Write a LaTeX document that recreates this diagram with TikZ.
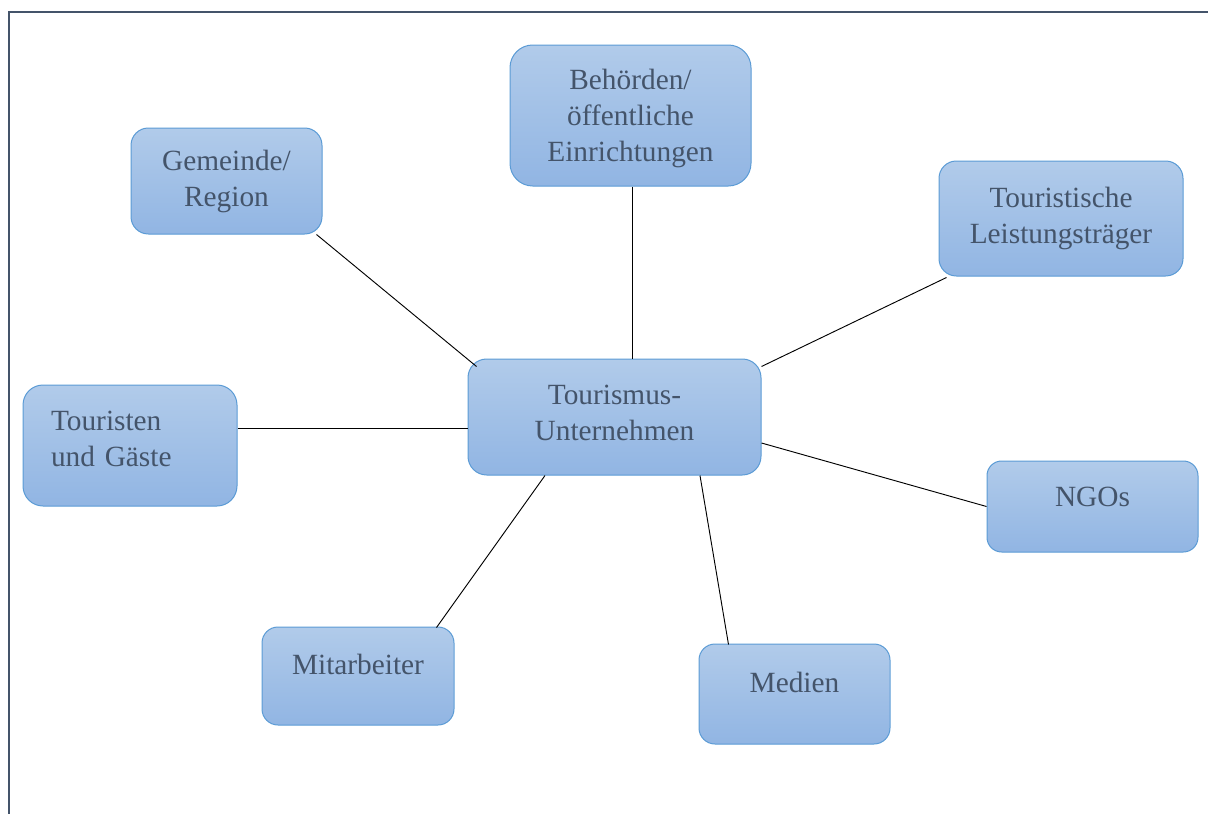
\documentclass[tikz,border=0pt]{standalone}
\usepackage{fontspec}
\setmainfont{Liberation Serif}
\usetikzlibrary{calc, positioning}
\definecolor{Rahmen}{RGB}{68,84,106}
\definecolor{Schrift}{RGB}{68,84,106}
\definecolor{BoxOben}{RGB}{177,203,234}
\definecolor{BoxUnten}{RGB}{145,181,227}
\definecolor{BoxRand}{RGB}{91,155,213}

\begin{document}
\begin{tikzpicture}[
  x=0.75pt, y=-0.75pt,
  font=\fontsize{22}{27}\selectfont,
  akteur/.style={draw=BoxRand, line width=0.75pt, rounded corners=13pt,
                 top color=BoxOben, bottom color=BoxUnten, text=Schrift,
                 align=center, inner sep=0pt},
  einzeilig/.style={text height=15pt, text depth=#1},
  verbindung/.style={line width=0.7pt, black},
  rahmen/.style={draw=Rahmen, line width=1.5pt}
]
\useasboundingbox (0,0) rectangle (1208,814);

%% ——— Rahmen ———
\draw[rahmen] (8.5,814) -- (8.5,12) -- (1208,12);

%% ——— Mitte: Unternehmen ———
\node[akteur, text depth=6pt, minimum width=219.75pt, minimum height=87pt, rounded corners=14pt]
  (tu) at (614.5,417) {Tourismus-\\Unternehmen};

%% ——— Oben: Anspruchsgruppen ———
\node[akteur, minimum width=143.25pt, minimum height=79.5pt] (gem) at (226.5,181) {Gemeinde/\\Region};
\node[akteur, text depth=0pt, minimum width=180.75pt, minimum height=105.75pt, rounded corners=17pt]
  (beh) at (630.5,115.5) {Behörden/\\öffentliche\\Einrichtungen};
\node[akteur, minimum width=183pt, minimum height=86.25pt] (lei) at (1061,218.5) {Touristische\\Leistungsträger};

%% ——— Seiten und unten ———
\node[akteur, align=left, text depth=37pt, text width=118.5pt, inner xsep=21pt, minimum height=90.75pt, rounded corners=15pt]
  (gae) at (130,445.5) {Touristen\\und Gäste};
\node[akteur, einzeilig=15pt, minimum width=158.25pt, minimum height=68.25pt, rounded corners=11pt]
  (ngo) at (1092.5,506.5) {NGOs};
\node[akteur, einzeilig=18pt, minimum width=144pt, minimum height=73.5pt, rounded corners=12pt]
  (mit) at (358,676) {Mitarbeiter};
\node[akteur, einzeilig=18pt, minimum width=143.25pt, minimum height=75pt, rounded corners=12pt]
  (med) at (794.5,694) {Medien};

%% Verbindungen zur Mitte
\draw[verbindung] ($(gem.south east)+(-6,0)$) -- ($(tu.north west)+(9,8)$);
\draw[verbindung] ($(beh.south)+(2,0)$) -- ($(tu.north)+(18,0)$);
\draw[verbindung] ($(lei.south west)+(8,1)$) -- ($(tu.north east)+(0,8)$);
\draw[verbindung] ($(gae.east)+(0,-17.5)$) -- ($(tu.west)+(0,11)$);
\draw[verbindung] ($(tu.east)+(0,26)$) -- (ngo.west);
\draw[verbindung] ($(tu.south)+(-69.5,0)$) -- ($(mit.north east)+(-18,1)$);
\draw[verbindung] ($(tu.south)+(85.5,0)$) -- ($(med.north west)+(30,1)$);

\end{tikzpicture}
\end{document}
